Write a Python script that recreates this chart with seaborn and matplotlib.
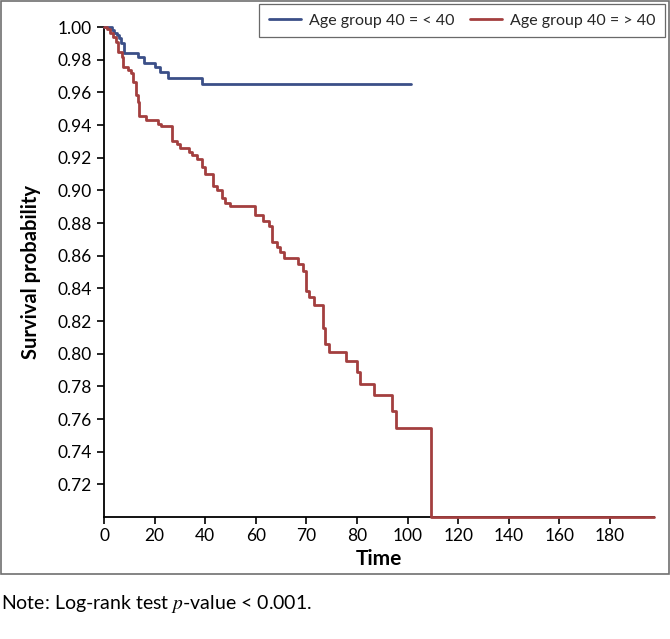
"""Kaplan-Meier style survival curves by age group (recreated from a figure)."""

import numpy as np
import pandas as pd

import matplotlib
matplotlib.use("Agg")
import matplotlib.pyplot as plt
from matplotlib.patches import Rectangle
import seaborn as sns

GROUP_LABELS = ["Age group 40 = < 40", "Age group 40 = > 40"]
LINE_COLOURS = ["#3b4f88", "#a33f3f"]

young_time = [0, 3.3, 4.1, 5.0, 5.9, 6.7, 8.0, 13.6, 15.9, 20.2, 22.1, 25.4, 38.6, 121.4]
young_surv = [1.0, 0.9982, 0.9965, 0.9951, 0.9931, 0.9900, 0.9842, 0.9816, 0.9781,
              0.9756, 0.9726, 0.9690, 0.9653, 0.9653]

old_time = [0, 1.07, 2.37, 3.68, 4.62, 5.65, 7.0, 7.63, 9.6, 10.67,
            11.58, 12.53, 13.32, 13.84, 16.48, 21.46, 22.53, 26.76, 28.74, 30.04,
            33.72, 34.67, 36.64, 38.62, 39.93, 43.21, 44.55, 46.53, 47.83, 49.81,
            59.69, 62.97, 65.34, 66.29, 68.5, 69.57, 71.27, 76.49, 78.66, 79.85,
            81.15, 83.01, 86.69, 87.36, 89.06, 95.66, 100.2, 101.2, 106.8, 113.7,
            115.4, 129.1, 217.4]
old_surv = [1.0, 0.9986, 0.9965, 0.9941, 0.9910, 0.9848, 0.9818, 0.9756, 0.9736, 0.9716,
            0.9664, 0.9582, 0.9539, 0.9454, 0.9429, 0.9409, 0.9392, 0.9302, 0.9286, 0.9261,
            0.9234, 0.9214, 0.9194, 0.9142, 0.9097, 0.9027, 0.8999, 0.8954, 0.8924, 0.8903,
            0.8846, 0.8815, 0.8784, 0.8686, 0.8655, 0.8620, 0.8583, 0.8549, 0.8508, 0.8381,
            0.8344, 0.8299, 0.8160, 0.8058, 0.8012, 0.7955, 0.7890, 0.7817, 0.7744, 0.7648,
            0.7546, 0.70, 0.70]

X_TICK_POS = [0, 20, 40, 60, 80, 100, 120, 140, 160, 180, 200]
X_TICK_LABELS = ["0", "20", "40", "60", "70", "80", "100", "120", "140", "160", "180"]
Y_TICKS = [0.72, 0.74, 0.76, 0.78, 0.80, 0.82, 0.84, 0.86, 0.88, 0.90,
           0.92, 0.94, 0.96, 0.98, 1.00]


def main():
    sns.set_theme(style="ticks")
    plt.rcParams["font.family"] = ["Lato", "DejaVu Sans"]
    plt.rcParams["mathtext.fontset"] = "stix"

    df = pd.concat([
        pd.DataFrame({"time": young_time, "surv": young_surv, "group": GROUP_LABELS[0]}),
        pd.DataFrame({"time": old_time, "surv": old_surv, "group": GROUP_LABELS[1]}),
    ], ignore_index=True)

    fig = plt.figure(figsize=(6.7, 6.39), dpi=100)
    ax = fig.add_axes([104 / 670, 1 - 517 / 639, 550 / 670, 490 / 639])

    sns.lineplot(data=df, x="time", y="surv", hue="group", hue_order=GROUP_LABELS,
                 palette=LINE_COLOURS, drawstyle="steps-post", estimator=None,
                 sort=False, linewidth=2, legend=False, ax=ax)
    for ln in ax.lines:
        ln.set_clip_on(False)
        ln.set_zorder(5)

    ax.set_xlim(0, 217.4)
    ax.set_ylim(0.70, 1.00)
    ax.set_xticks(X_TICK_POS)
    ax.set_xticklabels(X_TICK_LABELS)
    ax.set_yticks(Y_TICKS)
    ax.set_yticklabels([f"{v:.2f}" for v in Y_TICKS])
    ax.tick_params(axis="both", direction="out", length=5, width=1.2,
                   colors="black", labelsize=12.5, pad=4)
    ax.tick_params(axis="x", pad=3)
    for side in ("top", "right"):
        ax.spines[side].set_visible(False)
    for side in ("left", "bottom"):
        ax.spines[side].set_color("black")
        ax.spines[side].set_linewidth(1.3)

    ax.set_xlabel("Time", fontsize=15, fontweight="bold", color="black")
    ax.set_ylabel("Survival probability", fontsize=14.5, fontweight="bold", color="black")
    ax.xaxis.set_label_coords(0.5, -0.066)
    ax.yaxis.set_label_coords(-0.115, 0.5)

    leg = ax.legend(ax.lines[:2], GROUP_LABELS, ncol=2, loc="upper right",
                    bbox_to_anchor=(665 / 670, 1 - 4 / 639),
                    bbox_transform=fig.transFigure, frameon=True, fancybox=False,
                    fontsize=11.5, handlelength=2.0, handletextpad=0.5,
                    columnspacing=1.0, borderaxespad=0, borderpad=0.6)
    leg.get_frame().set_edgecolor("#444444")
    leg.get_frame().set_linewidth(0.9)

    fig.patches.append(Rectangle((0.5 / 670, 1 - 574 / 639), 668.5 / 670, 573.5 / 639,
                                 transform=fig.transFigure, fill=False,
                                 edgecolor="#707070", linewidth=1.2))

    fig.text(1 / 670, 1 - 604 / 639, r"Note: Log-rank test $p$-value < 0.001.",
             fontsize=14, ha="left", va="center", color="black")

    fig.savefig("out.png", dpi=100)
    plt.close(fig)


if __name__ == "__main__":
    main()
